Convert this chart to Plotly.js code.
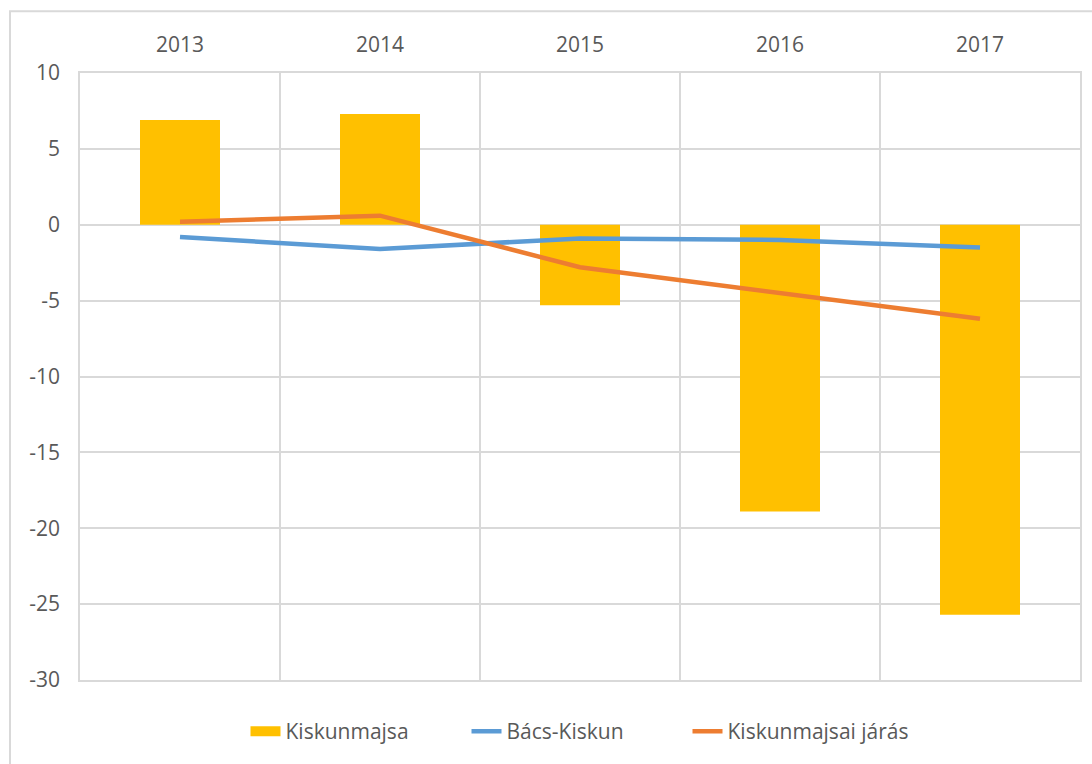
<!DOCTYPE html>
<html><head><meta charset="utf-8">
<script src="https://cdn.plot.ly/plotly-3.0.1.min.js"></script>
<style>html,body{margin:0;padding:0;background:#fff}#chart{width:1092px;height:764px}</style>
</head><body><div id="chart"></div>
<script>
const years = ['2013','2014','2015','2016','2017'];
const kiskunmajsa = [6.9, 7.3, -5.3, -18.9, -25.7];
const bacsKiskun = [-0.8, -1.6, -0.9, -1.0, -1.5];
const kiskunmajsaiJaras = [0.2, 0.6, -2.8, -4.5, -6.2];
const yTicks = [10, 5, 0, -5, -10, -15, -20, -25, -30];
const yTickText = ['10', '5', '0', '-5', '-10', '-15', '-20', '-25', '-30'];

const fam = 'Open Sans, Noto Sans, sans-serif';
const txt = {family: fam, size: 21, color: '#595959'};
const data = [
  {type:'bar', name:'Kiskunmajsa', x:years, y:kiskunmajsa, width:0.4, marker:{color:'#FFC000'}, legendgroup:'k', showlegend:false},
  {type:'scatter', mode:'lines', name:'Kiskunmajsa', x:[null], y:[null], line:{color:'#FFC000', width:14}, legendgroup:'k', hoverinfo:'skip'},
  {type:'scatter', mode:'lines', name:'Bács-Kiskun', x:years, y:bacsKiskun, line:{color:'#5B9BD5', width:4.5}},
  {type:'scatter', mode:'lines', name:'Kiskunmajsai járás', x:years, y:kiskunmajsaiJaras, line:{color:'#ED7D31', width:4.5}}
];
const layout = {
  width:1092, height:764,
  margin:{l:80, r:12, t:73, b:81},
  paper_bgcolor:'#fff', plot_bgcolor:'#fff',
  font: txt,
  showlegend:true,
  legend:{orientation:'h', x:0.497, xanchor:'center', y:-0.085, yanchor:'middle', font:txt, traceorder:'normal',
    entrywidth:176, entrywidthmode:'pixels'},
  xaxis:{type:'category', categoryarray:years, side:'top', tickson:'boundaries', showgrid:true, gridcolor:'#d9d9d9', gridwidth:1.5,
    showline:true, linecolor:'#d9d9d9', linewidth:1.5, mirror:true, ticks:'', ticklabelstandoff:11, zeroline:false,
    tickfont:txt, range:[-0.5,4.5], automargin:false},
  yaxis:{range:[-30,10], tickvals:yTicks, ticktext:yTickText, showgrid:true, gridcolor:'#d9d9d9', gridwidth:1.5, zeroline:false,
    showline:true, linecolor:'#d9d9d9', linewidth:1.5, mirror:true, ticks:'', ticklabelstandoff:14,
    tickfont:txt, automargin:false},
  shapes:[{type:'rect', xref:'paper', yref:'paper', x0:-0.07, x1:1.2, y0:-0.3, y1:1 + 62/610, line:{color:'#d9d9d9', width:2}, layer:'below'}]
};
Plotly.newPlot('chart', data, layout, {displayModeBar:false});
</script></body></html>
